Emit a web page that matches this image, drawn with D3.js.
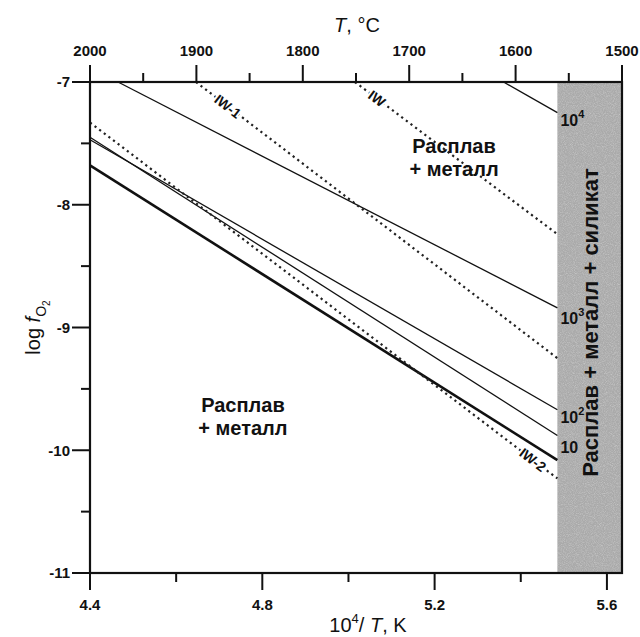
<!DOCTYPE html>
<html><head><meta charset="utf-8">
<script src="https://cdn.jsdelivr.net/npm/d3@7"></script>
<style>body{margin:0;background:#fff}</style>
</head><body>
<svg id="chart" width="640" height="637"></svg>
<script>
// ---- axis ticks ----
const xMajor = [4.4, 4.8, 5.2, 5.6];
const xMinor = [4.6, 5.0, 5.4];
const tMajor = [2000, 1900, 1800, 1700, 1600, 1500];
const tMinor = [1950, 1850, 1750, 1650, 1550];
const yMajor = [-7, -8, -9, -10, -11];
const yMinor = [-7.5, -8.5, -9.5, -10.5];
const yLabels = ["-7", "-8", "-9", "-10", "-11"];

// ---- field boundary: melt + metal + silicate beyond this 10^4/T ----
const silicateEdge = 5.485;

// ---- solid iso-lines: [10^4/T, log fO2] at both ends ----
const isoBase = ["10", "10", "10", "10", ""];
const isoExp = ["4", "3", "2", "", ""];
const isoStart = [[5.36, -7], [4.465, -7], [4.4, -7.47], [4.4, -7.45], [4.4, -7.68]];
const isoEnd = [[5.485, -7.25], [5.485, -8.84], [5.485, -9.67], [5.485, -9.88], [5.485, -10.08]];
const isoWidth = [1.3, 1.3, 1.3, 1.3, 2.6];
const isoLabelDy = [13, 16, 13, 17, 0];

// ---- oxygen buffers (dotted) ----
const bufNames = ["IW-1", "IW", "IW-2"];
const bufStart = [[4.646, -7], [5.015, -7], [4.4, -7.33]];
const bufEnd = [[5.485, -9.25], [5.485, -8.24], [5.485, -10.23]];
const bufLabelAt = [4.72, 5.066, 5.428];

const svg = d3.select("#chart");
const L = 90, R = 622, T = 82, B = 573;
const x = d3.scaleLinear().domain([4.4, 5.635]).range([L, R]);
const xT = d3.scaleLinear().domain([2000, 1500]).range([L, R]);
const y = d3.scaleLinear().domain([-7, -11]).range([T, B]);
const font = "'Liberation Sans', Arial, sans-serif";

// grain for the shaded field
const defs = svg.append("defs");
const f = defs.append("filter").attr("id", "grain").attr("x", 0).attr("y", 0).attr("width", 1).attr("height", 1);
f.append("feTurbulence").attr("type", "fractalNoise").attr("baseFrequency", 1.1).attr("numOctaves", 1).attr("seed", 4).attr("result", "n");
f.append("feColorMatrix").attr("in", "n").attr("type", "matrix")
  .attr("values", "0 0 0 0 1  0 0 0 0 1  0 0 0 0 1  0.8 0.8 0.8 0 -1.05").attr("result", "a");
f.append("feComposite").attr("in", "a").attr("in2", "SourceGraphic").attr("operator", "in");

const band = svg.append("g");
band.append("rect").attr("x", x(silicateEdge)).attr("y", T)
  .attr("width", R - x(silicateEdge)).attr("height", B - T).attr("fill", "#aaaaaa");
band.append("rect").attr("x", x(silicateEdge)).attr("y", T)
  .attr("width", R - x(silicateEdge)).attr("height", B - T).attr("fill", "#aaaaaa")
  .attr("filter", "url(#grain)").attr("opacity", 0.45);

const line = d3.line().x(d => x(d[0])).y(d => y(d[1]));

// iso-lines
isoStart.forEach((s, i) => {
  svg.append("path").attr("d", line([s, isoEnd[i]]))
    .attr("fill", "none").attr("stroke", "#111").attr("stroke-width", isoWidth[i]);
});

// buffers
bufStart.forEach((s, i) => {
  svg.append("path").attr("d", line([s, bufEnd[i]]))
    .attr("fill", "none").attr("stroke", "#222").attr("stroke-width", 2.2)
    .attr("stroke-dasharray", "2.2,3.6");
});
bufNames.forEach((n, i) => {
  const s = bufStart[i], e = bufEnd[i];
  const k = (e[1] - s[1]) / (e[0] - s[0]);
  const u = bufLabelAt[i], v = s[1] + k * (u - s[0]);
  const ang = Math.atan2(y(v + k * 0.1) - y(v), x(u + 0.1) - x(u)) * 180 / Math.PI;
  svg.append("text").attr("transform", `translate(${x(u)},${y(v)}) rotate(${ang})`)
    .attr("text-anchor", "middle").attr("dy", "0.36em")
    .attr("font-family", font).attr("font-weight", "bold").attr("font-size", 14)
    .attr("stroke", "#fff").attr("stroke-width", 4).attr("paint-order", "stroke")
    .attr("fill", "#111").text(n);
});

// iso-line labels at the field boundary
isoEnd.forEach((e, i) => {
  if (!isoBase[i]) return;
  const t = svg.append("text").attr("x", x(e[0]) + 3).attr("y", y(e[1]) + isoLabelDy[i])
    .attr("font-family", font).attr("font-weight", "bold").attr("font-size", 16).attr("fill", "#111");
  t.append("tspan").text(isoBase[i]);
  if (isoExp[i]) t.append("tspan").attr("dy", -8).attr("font-size", 11).text(isoExp[i]);
});

// field names
function twoLine(cx, y1, a, b) {
  const g = svg.append("g").attr("font-family", font).attr("font-weight", "bold")
    .attr("font-size", 20).attr("fill", "#111").attr("text-anchor", "middle");
  g.append("text").attr("x", cx).attr("y", y1).text(a);
  g.append("text").attr("x", cx).attr("y", y1 + 23).text(b);
}
twoLine(x(5.245), y(-7.58), "Расплав", "+ металл");
twoLine(x(4.755), y(-9.69), "Расплав", "+ металл");

svg.append("text")
  .attr("transform", `translate(${(x(silicateEdge) + R) / 2 + 8},${y(-8.96)}) rotate(-90)`)
  .attr("text-anchor", "middle").attr("font-family", font).attr("font-weight", "bold")
  .attr("font-size", 22).attr("fill", "#111").text("Расплав + металл + силикат");

// frame
svg.append("rect").attr("x", L).attr("y", T).attr("width", R - L).attr("height", B - T)
  .attr("fill", "none").attr("stroke", "#111").attr("stroke-width", 2.2);

// ticks
const tk = svg.append("g").attr("stroke", "#111").attr("stroke-width", 2);
xMajor.forEach(d => tk.append("line").attr("x1", x(d)).attr("x2", x(d)).attr("y1", B).attr("y2", B + 17));
xMinor.forEach(d => tk.append("line").attr("x1", x(d)).attr("x2", x(d)).attr("y1", B).attr("y2", B + 9));
tMajor.forEach(d => tk.append("line").attr("x1", xT(d)).attr("x2", xT(d)).attr("y1", T).attr("y2", T - 17));
tMinor.forEach(d => tk.append("line").attr("x1", xT(d)).attr("x2", xT(d)).attr("y1", T).attr("y2", T - 9));
yMajor.forEach(d => tk.append("line").attr("x1", L).attr("x2", L - 18).attr("y1", y(d)).attr("y2", y(d)));
yMinor.forEach(d => tk.append("line").attr("x1", L).attr("x2", L - 9).attr("y1", y(d)).attr("y2", y(d)));

const lab = svg.append("g").attr("font-family", font).attr("font-weight", "bold")
  .attr("font-size", 15).attr("fill", "#111");
xMajor.forEach(d => lab.append("text").attr("x", x(d)).attr("y", B + 37)
  .attr("text-anchor", "middle").text(d3.format(".1f")(d)));
tMajor.forEach(d => lab.append("text").attr("x", xT(d)).attr("y", T - 26)
  .attr("text-anchor", "middle").text(d));
yMajor.forEach((d, i) => lab.append("text").attr("x", L - 20).attr("y", y(d))
  .attr("dy", "0.36em").attr("text-anchor", "end").text(yLabels[i]));

// axis titles
const tt = svg.append("text").attr("x", 357).attr("y", 32).attr("text-anchor", "middle")
  .attr("font-family", font).attr("font-size", 20).attr("fill", "#111");
tt.append("tspan").attr("font-style", "italic").text("T");
tt.append("tspan").text(", °C");

const bt = svg.append("text").attr("x", 368).attr("y", 632).attr("text-anchor", "middle")
  .attr("font-family", font).attr("font-size", 20).attr("fill", "#111");
bt.append("tspan").text("10");
bt.append("tspan").attr("dy", -9).attr("font-size", 13).text("4");
bt.append("tspan").attr("dy", 9).text("/ ");
bt.append("tspan").attr("font-style", "italic").text("T");
bt.append("tspan").text(", K");

const yt = svg.append("text").attr("transform", `translate(40,${y(-9)}) rotate(-90)`)
  .attr("text-anchor", "middle").attr("font-family", font).attr("font-size", 20).attr("fill", "#111");
yt.append("tspan").text("log ");
yt.append("tspan").attr("font-style", "italic").text("f");
yt.append("tspan").attr("dy", 6).attr("font-size", 14).text("O");
yt.append("tspan").attr("dy", 4).attr("font-size", 10).text("2");
</script>
</body></html>
